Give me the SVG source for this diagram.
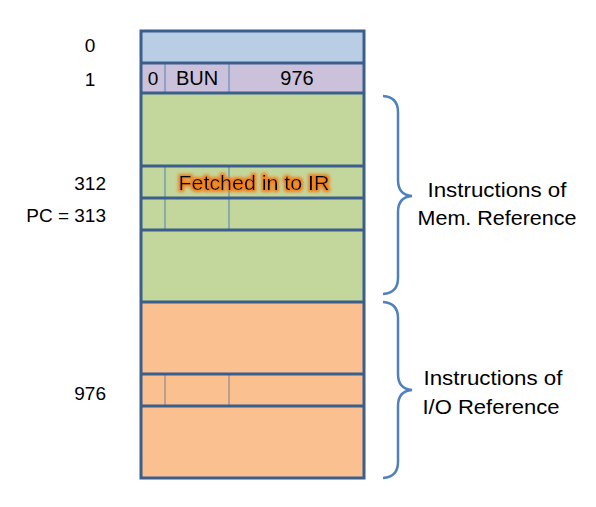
<svg xmlns="http://www.w3.org/2000/svg" width="596" height="507" viewBox="0 0 596 507">
<style>
.t{font-family:"Liberation Sans",Arial,sans-serif;font-size:19px;fill:#000}
.l{font-size:21px}
.b{stroke:#3B5E8C;stroke-width:3;fill:none}
.v{stroke:#4F81BD;stroke-width:1}
.vo{stroke:#7F7F8F;stroke-width:1}
.br{stroke:#4F81BD;stroke-width:2.5;fill:none}
</style>
<defs>
<filter id="glow" x="-20%" y="-50%" width="140%" height="200%">
<feMorphology in="SourceAlpha" operator="dilate" radius="2" result="d"/>
<feGaussianBlur in="d" stdDeviation="1.5" result="bl"/>
<feFlood flood-color="#F0801E"/>
<feComposite in2="bl" operator="in" result="g"/>
<feMerge><feMergeNode in="g"/><feMergeNode in="SourceGraphic"/></feMerge>
</filter>
</defs>
<rect width="596" height="507" fill="#fff"/>
<g id="memory">
<rect x="141" y="31" width="223" height="32" fill="#B9CDE5"/>
<rect x="141" y="63" width="223" height="30" fill="#CCC1DA"/>
<rect x="141" y="93" width="223" height="209" fill="#C3D69B"/>
<rect x="141" y="302" width="223" height="176" fill="#FAC090"/>
<line class="v" x1="165" y1="63" x2="165" y2="93"/>
<line class="v" x1="229" y1="63" x2="229" y2="93"/>
<line class="v" x1="165" y1="166" x2="165" y2="230"/>
<line class="v" x1="229" y1="166" x2="229" y2="230"/>
<line class="vo" x1="165" y1="374" x2="165" y2="406"/>
<line class="vo" x1="229" y1="374" x2="229" y2="406"/>
<g class="b">
<rect x="141" y="31" width="223" height="447"/>
<line x1="141" y1="63" x2="364" y2="63"/>
<line x1="141" y1="93" x2="364" y2="93"/>
<line x1="141" y1="166" x2="364" y2="166"/>
<line x1="141" y1="198" x2="364" y2="198"/>
<line x1="141" y1="230" x2="364" y2="230"/>
<line x1="141" y1="302" x2="364" y2="302"/>
<line x1="141" y1="374" x2="364" y2="374"/>
<line x1="141" y1="406" x2="364" y2="406"/>
</g>
<text class="t" x="153" y="85" text-anchor="middle" font-size="20">0</text>
<text class="t" x="197" y="85" text-anchor="middle" style="font-size:20px">BUN</text>
<text class="t" x="297" y="85" text-anchor="middle" style="font-size:20px">976</text>
<text class="t" x="254" y="190" text-anchor="middle" filter="url(#glow)" style="font-size:21px" textLength="151" lengthAdjust="spacingAndGlyphs">Fetched in to IR</text>
</g>
<g id="addresses">
<text class="t" x="90" y="52" text-anchor="middle">0</text>
<text class="t" x="90" y="86" text-anchor="middle">1</text>
<text class="t" x="106" y="190" text-anchor="end">312</text>
<text class="t" x="106" y="222" text-anchor="end">PC = 313</text>
<text class="t" x="106" y="400" text-anchor="end">976</text>
</g>
<g id="connectors">
<path class="br" d="M383,96 Q398,97 398,112 L398,180 Q398,195 412,196 Q398,197 398,212 L398,278 Q398,293 383,294"/>
<path class="br" d="M383,302 Q398,303 398,318 L398,374 Q398,389 412,390 Q398,391 398,406 L398,462 Q398,477 383,478"/>
</g>
<g id="mem-label">
<text class="t l" x="497" y="197" text-anchor="middle" textLength="139" lengthAdjust="spacingAndGlyphs">Instructions of</text>
<text class="t l" x="497" y="225" text-anchor="middle" textLength="159" lengthAdjust="spacingAndGlyphs">Mem. Reference</text>
</g>
<g id="io-label">
<text class="t l" x="493" y="385" text-anchor="middle" textLength="139" lengthAdjust="spacingAndGlyphs">Instructions of</text>
<text class="t l" x="491" y="414" text-anchor="middle" textLength="137" lengthAdjust="spacingAndGlyphs">I/O Reference</text>
</g>
</svg>
